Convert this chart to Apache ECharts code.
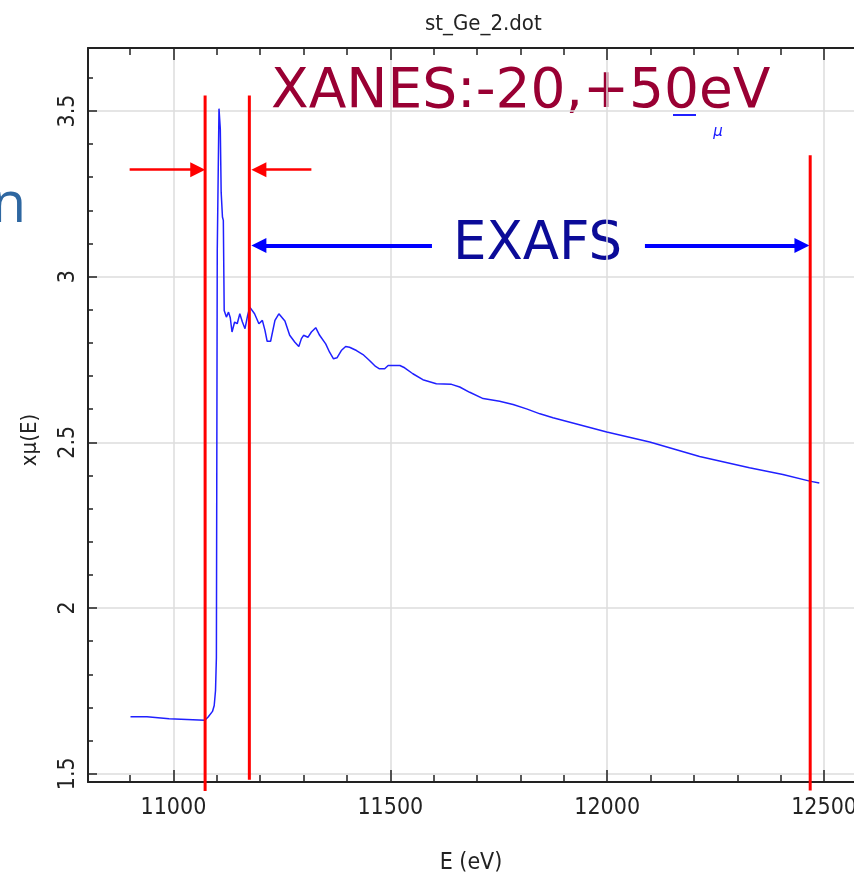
<!DOCTYPE html>
<html><head><meta charset="utf-8">
<script src="https://cdn.jsdelivr.net/npm/echarts@6/dist/echarts.min.js"></script>
<style>html,body{margin:0;padding:0;background:#fff}#c{width:854px;height:874px}</style>
</head><body><div id="c"></div>
<script>
// ---- data ----
const energy = [10901,10939,10940,10990,10991,11072,11080,11090,11094,11097,11099,11101,11104,11105,11107,11108,11110,11113,11115,11117,
  11122,11127,11131,11135,11141,11147,11153,11159,11165,11171,11176,11187,11197,11205,11211,11216,11224,11234,11243,11257,
  11268,11280,11289,11295,11300,11310,11318,11328,11337,11351,11360,11369,11377,11387,11397,11406,11422,11437,11452,11466,
  11475,11487,11495,11522,11533,11552,11575,11606,11641,11660,11683,11714,11752,11783,11814,11845,11875,11999,12098,12213,
  12328,12405,12467,12489];
const mu = [1.672,1.672,1.666,1.666,1.661,1.661,1.671,1.688,1.706,1.751,1.85,3.079,3.079,3.507,3.507,3.446,3.255,3.18,3.17,2.898,
  2.878,2.893,2.876,2.833,2.863,2.858,2.888,2.863,2.843,2.883,2.908,2.888,2.858,2.868,2.838,2.805,2.805,2.868,2.888,2.866,
  2.823,2.802,2.789,2.813,2.823,2.817,2.833,2.846,2.823,2.797,2.772,2.752,2.755,2.777,2.789,2.787,2.777,2.765,2.747,2.729,
  2.722,2.722,2.732,2.732,2.725,2.707,2.689,2.677,2.675,2.667,2.651,2.632,2.624,2.614,2.601,2.586,2.574,2.531,2.501,2.457,
  2.423,2.403,2.383,2.377];
const xMajorTicks = [11000, 11500, 12000, 12500];
const xMinorTicks = [10900, 11100, 11200, 11300, 11400, 11600, 11700, 11800, 11900, 12100, 12200, 12300, 12400];
const yMajorTicks = [1.5, 2, 2.5, 3, 3.5];
const yMinorTicks = [1.6, 1.7, 1.8, 1.9, 2.1, 2.2, 2.3, 2.4, 2.6, 2.7, 2.8, 2.9, 3.1, 3.2, 3.3, 3.4, 3.6];
// annotation lines (energy, top value, bottom value)
const redLineE = [11073, 11175, 12468];
const redLineTop = [3.547, 3.547, 3.366];
const redLineBottom = [1.4475, 1.482, 1.4496];
// arrows: [fromE, fromV, toE, toV]
const redArrows = [[10899, 3.3226, 11056, 3.3226], [11318, 3.3226, 11197, 3.3226]];
const blueArrows = [[11596, 3.094, 11197, 3.094], [12087, 3.094, 12449, 3.094]];

const FONT = '"Liberation Sans Narrow", "DejaVu Sans Condensed", sans-serif';
const X_MIN = 10803, X_MAX = 12569, Y_MIN = 1.475, Y_MAX = 3.69;
const AX = '#222';

function xAxisDef(pos, ticks, len, major) {
  return {
    type: 'value', position: pos, min: X_MIN, max: X_MAX,
    axisLine: { show: major, onZero: false, lineStyle: { color: AX, width: 2 } },
    axisTick: { show: true, inside: true, length: len, customValues: ticks, lineStyle: { color: AX, width: 1.5 } },
    axisLabel: { show: false },
    splitLine: { show: false }
  };
}
function yAxisDef(ticks, len, major) {
  return {
    type: 'value', position: 'left', min: Y_MIN, max: Y_MAX,
    axisLine: { show: major, onZero: false, lineStyle: { color: AX, width: 2 } },
    axisTick: { show: true, inside: true, length: len, customValues: ticks, lineStyle: { color: AX, width: 1.5 } },
    axisLabel: { show: false },
    splitLine: { show: false }
  };
}

const xBottom = xAxisDef('bottom', xMajorTicks, 12, true);
xBottom.axisLabel = { show: true, customValues: xMajorTicks, margin: 15, fontFamily: FONT, fontSize: 23, color: AX, formatter: v => String(v) };
xBottom.splitLine = { show: true, lineStyle: { color: '#dcdcdc', width: 1.5 } };
xBottom.name = 'E (eV)';
xBottom.nameLocation = 'middle';
xBottom.nameGap = 70;
xBottom.nameTextStyle = { fontFamily: FONT, fontSize: 23, color: AX };

const yLeft = yAxisDef(yMajorTicks, 9, true);
yLeft.axisLabel = { show: true, customValues: yMajorTicks, rotate: 90, margin: 8.5, fontFamily: FONT, fontSize: 23, color: AX };
yLeft.splitLine = { show: true, lineStyle: { color: '#dcdcdc', width: 1.5 } };

const arrowData = [];
redArrows.forEach(a => {
  arrowData.push([
    { coord: [a[0], a[1]], symbol: 'none', lineStyle: { color: '#ff0000', width: 2.5, type: 'solid' } },
    { coord: [a[2], a[3]], symbol: 'triangle', symbolSize: 15 }
  ]);
});
blueArrows.forEach(a => {
  arrowData.push([
    { coord: [a[0], a[1]], symbol: 'none', lineStyle: { color: '#0000ff', width: 4, type: 'solid' } },
    { coord: [a[2], a[3]], symbol: 'triangle', symbolSize: 15 }
  ]);
});

const redSeries = redLineE.map((e, i) => ({
  name: 'edge' + i, type: 'line', xAxisIndex: 0, yAxisIndex: 0, clip: false, z: 5,
  data: [[e, redLineTop[i]], [e, redLineBottom[i]]],
  showSymbol: false, symbol: 'none', silent: true,
  lineStyle: { color: '#ff0000', width: 3 }
}));

const chart = echarts.init(document.getElementById('c'), null, { renderer: 'canvas' });
chart.setOption({
  animation: false,
  backgroundColor: '#fff',
  title: { text: 'st_Ge_2.dot', left: 420, top: 8, textStyle: { fontFamily: FONT, fontSize: 22, fontWeight: 'normal', color: AX } },
  legend: {
    left: 673, top: 114, padding: 0, itemWidth: 23, itemHeight: 2, icon: 'rect', itemGap: 0,
    data: ['μ'], formatter: () => '',
    textStyle: { fontSize: 12 }
  },
  grid: { left: 88, top: 48, right: 0, bottom: 92, containLabel: false, outerBoundsMode: 'none' },
  xAxis: [xBottom, xAxisDef('bottom', xMinorTicks, 7, false), xAxisDef('top', xMajorTicks, 12, true), xAxisDef('top', xMinorTicks, 7, false)],
  yAxis: [yLeft, yAxisDef(yMinorTicks, 5, false)],
  series: [{
    name: 'μ', type: 'line', xAxisIndex: 0, yAxisIndex: 0, z: 3,
    data: energy.map((e, i) => [e, mu[i]]),
    showSymbol: false, symbol: 'none',
    lineStyle: { color: '#2020ff', width: 1.5 },
    itemStyle: { color: '#2020ff' },
    markLine: { silent: true, animation: false, label: { show: false }, emphasis: { disabled: true }, data: arrowData }
  }].concat(redSeries),
  graphic: [
    { type: 'text', x: 271, y: 92.7, style: { text: 'XANES:-20,+50eV', fill: '#990033', font: '55px "DejaVu Sans"', align: 'left', verticalAlign: 'middle' } },
    { type: 'text', x: 453, y: 245, style: { text: 'EXAFS', fill: '#0b0b98', font: '53px "DejaVu Sans"', align: 'left', verticalAlign: 'middle' } },
    { type: 'text', x: 26, y: 206, style: { text: 'n', fill: '#2e67a1', font: '56px "Open Sans"', align: 'right', verticalAlign: 'middle' } },
    { type: 'text', x: 718, y: 131.7, style: { text: 'μ', fill: '#1a1aff', font: 'italic 15px "DejaVu Sans"', align: 'center', verticalAlign: 'middle' } },
    { type: 'text', x: 30, y: 440, rotation: Math.PI / 2, style: { text: 'xμ(E)', fill: AX, font: '22px ' + FONT, align: 'center', verticalAlign: 'middle' } }
  ]
});
</script></body></html>
